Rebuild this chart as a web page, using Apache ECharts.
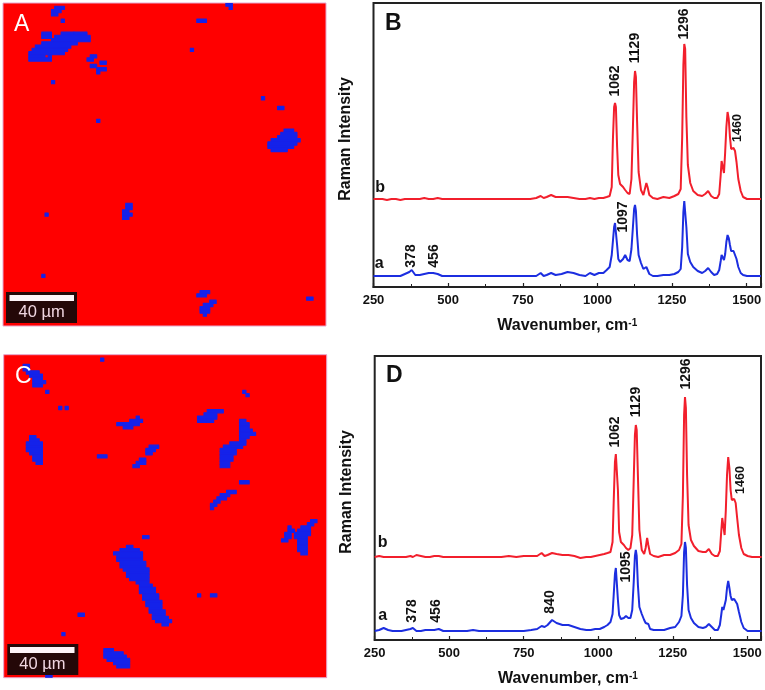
<!DOCTYPE html>
<html><head><meta charset="utf-8">
<style>html,body{margin:0;padding:0;background:#fff}#c{width:765px;height:690px;filter:blur(0.4px)}</style>
<script src="https://cdn.jsdelivr.net/npm/echarts@6/dist/echarts.min.js"></script>
</head><body><div id="c"></div>
<script>
// ---- Raman spectra: wavenumbers and intensities (arbitrary height units)
const wavenumbers = [
250,265,280,295,310,325,340,355,370,378,
390,405,420,435,450,465,480,500,520,525,
540,560,580,600,625,650,675,700,725,750,
775,795,810,820,830,845,860,880,900,920,
940,960,975,990,1005,1020,1031,1041,
1048,1052,1056,1059,1062,1066,1070,1076,1086,1093,
1101,1108,1114,1119,1123,1126,1129,1133,1138,1146,
1154,1159,1164,1168,1174,
1186,1201,1221,1241,1258,1271,1279,1284,1288,1291,
1294,1298,1303,1311,1321,1336,1351,1361,1371,1381,1391,
1401,1408,1413,1416,1420,1424,1428,1432,1436,1440,
1444,1448,1452,1456,1461,1466,1472,1480,1488,1501,
1516,1531,1548];
const panelB_b = [
88,88,88,87,88,88,87,88,88,88,
88,88,89,88,88,89,88,88,88,86,
88,88,88,88,88,88,88,88,88,88,
88,89,91,89,90,92,90,90,90,89,
88,88,89,88,89,89,90,91,
100,148,180,184,180,140,112,103,100,97,
94,93,108,160,205,216,210,165,115,97,
92,94,104,100,92,
89,88,90,89,91,93,98,150,222,243,
238,170,122,104,96,92,91,93,96,91,89,
89,93,112,126,128,114,135,160,175,168,
150,138,136,139,136,125,108,96,90,88,
88,88,88];
const panelB_a = [
11,11,11,11,11,11,11,13,15,17,
12,12,13,14,14,13,11,11,11,13,
11,11,11,11,11,11,11,11,11,11,
11,11,14,11,12,14,12,13,15,14,
12,11,14,12,14,14,17,20,
32,46,60,64,62,42,28,25,28,32,
27,26,38,60,78,82,76,52,32,24,
18,19,20,18,13,
11,11,12,12,13,15,18,40,75,86,
84,60,33,25,20,16,14,16,19,15,12,
13,17,26,32,33,27,33,45,52,49,
42,36,34,36,34,28,20,14,12,11,
11,11,11];
const panelD_b = [
83,84,83,83,83,83,83,83,84,83,
85,84,83,83,84,84,83,83,83,84,
83,83,83,83,83,83,83,84,83,84,
84,84,87,84,85,87,86,85,85,84,
82,83,83,84,85,86,87,88,
98,140,178,186,184,150,108,98,95,92,
90,92,105,160,205,215,210,165,110,90,
86,92,102,95,86,
84,83,85,85,87,90,96,145,225,243,
232,165,115,100,94,89,88,88,91,86,84,
84,89,110,122,124,105,130,165,183,172,
150,140,138,141,137,122,105,92,86,84,
83,83,83];
const panelD_a = [
9,10,12,10,9,9,9,10,11,12,
9,9,10,10,10,11,9,9,9,10,
9,9,10,9,9,9,9,9,9,9,
10,11,14,13,15,20,17,15,15,13,
11,10,10,11,11,13,15,18,
26,46,66,72,70,40,25,21,22,24,
22,22,30,58,84,90,84,55,33,26,
20,17,19,16,11,
10,10,10,12,13,18,24,45,88,98,
92,55,30,22,17,13,12,13,16,13,10,
10,15,26,33,30,28,40,52,59,52,
44,40,38,41,40,36,28,18,12,9,
9,9,9];

// ---- Peak annotations: [wavenumber, height, text]
const peakLabelsB = [[1058,206,'1062'],[1125,239,'1129'],[1291,263,'1296'],[1086,70,'1097'],[375,31,'378'],[453,31,'456']];
const smallLabelsB = [[1471,159,'1460']];
const traceLabelsB = [[272,99,'b'],[269,23,'a']];
const peakLabelsD = [[1056,208,'1062'],[1126,238,'1129'],[1294,266,'1296'],[1092,73,'1095'],[376,29,'378'],[456,29,'456'],[840,38,'840']];
const smallLabelsD = [[1476,160,'1460']];
const traceLabelsD = [[277,97,'b'],[277,24,'a']];

// ---- Raman maps: runs of blue cells on a 100x100 grid [row, firstCol, lastCol]
const mapA = [
[1,16,18],[2,15,17],[3,15,16],[5,18,18],
[9,12,14],[9,18,21],[9,22,25],[10,12,14],[10,16,26],[11,15,26],[12,12,22],[13,10,20],[14,9,19],[15,8,18],[16,8,12],[16,14,14],[17,8,14],
[16,27,28],[17,26,27],[18,30,31],[19,27,28],[20,29,31],[21,29,29],
[24,15,15],[36,29,29],[65,13,13],[84,12,12],
[62,38,39],[63,38,39],[64,37,38],[65,37,39],[66,37,38],
[0,69,70],[1,70,70],[5,60,62],[14,58,58],[29,80,80],[32,85,86],
[39,87,89],[40,86,90],[41,85,90],[42,83,91],[43,82,90],[44,82,89],[45,83,87],
[89,61,63],[90,60,62],[92,64,65],[93,62,64],[94,61,63],[95,61,63],[96,62,62],[91,94,95]
];
const mapC = [
[1,30,30],[3,6,7],[4,6,7],[5,7,10],[6,8,11],[7,9,11],[8,9,12],[9,9,11],[11,13,13],[16,17,17],[16,19,19],
[19,41,41],[20,39,42],[21,35,41],[22,37,39],
[17,63,67],[18,62,65],[19,60,65],[20,60,62],[20,63,64],
[11,74,74],[12,75,75],
[20,73,74],[21,73,75],[22,73,75],[23,73,76],[24,73,77],[25,73,75],[26,73,74],
[27,70,74],[28,68,73],[29,67,71],[30,67,71],[31,67,70],[32,67,70],[33,67,69],[34,67,69],
[25,8,9],[26,8,10],[27,7,11],[28,7,11],[29,7,11],[30,8,11],[31,9,11],[32,9,11],[33,10,11],
[31,29,31],[28,45,47],[29,44,46],[30,44,45],[32,42,43],[33,41,43],[34,40,41],
[39,73,75],[42,69,71],[43,67,69],[44,66,68],[45,65,66],[46,64,65],[47,64,64],[56,43,44],
[51,95,96],[52,94,95],[53,88,88],[53,92,94],[54,88,89],[54,91,94],[55,87,88],[55,90,94],[56,87,88],[56,90,93],[57,86,87],[57,91,93],[58,91,93],[59,91,93],[60,91,93],[61,92,93],
[59,38,39],[60,36,41],[61,34,42],[62,35,42],[63,35,42],[64,36,43],[65,36,43],[66,37,44],[67,38,44],[68,38,44],[69,39,44],[70,41,44],[71,42,45],[72,42,46],[73,42,46],[74,43,47],[75,43,47],[76,44,48],[77,44,48],[78,45,48],[79,45,49],[80,46,49],[81,46,50],[82,47,51],[83,49,50],
[74,60,60],[74,64,65],[80,23,24],[86,18,18],
[91,31,33],[92,31,36],[93,31,37],[94,32,38],[95,34,38],[96,35,38],[99,13,14]
];

const FONT = '"Liberation Sans", Arial, sans-serif';
const RED = '#f21f2c', BLUE = '#1c2ee0', MAPBLUE = '#1422ea';

const chart = echarts.init(document.getElementById('c'), null, {renderer:'canvas'});

function zip(a){ return wavenumbers.map((w,i)=>[w,a[i]]); }

function mapSeries(idx, runs){
  return {
    type:'custom', xAxisIndex:idx, yAxisIndex:idx, data:runs, silent:true, clip:true,
    encode:{x:[1,2], y:0},
    renderItem(params, api){
      const row = api.value(0), c0 = api.value(1), c1 = api.value(2);
      const p0 = api.coord([c0,row]), p1 = api.coord([c1+1,row+1]);
      return {type:'rect', shape:{x:p0[0],y:p0[1],width:p1[0]-p0[0],height:p1[1]-p0[1]},
              style:{fill:MAPBLUE,stroke:MAPBLUE,lineWidth:1.1,lineJoin:'round'}};
    }
  };
}
function lineSeries(idx,vals,color){
  return {type:'line', xAxisIndex:idx, yAxisIndex:idx, data:zip(vals), showSymbol:false, silent:true,
    lineStyle:{color, width:2}, itemStyle:{color}, z:3};
}
function textSeries(idx,rows,size,rotate){
  return {type:'scatter', xAxisIndex:idx, yAxisIndex:idx, data:rows, symbolSize:0.1, silent:true, z:5,
    itemStyle:{color:'transparent',opacity:1},
    label:{show:true, position:'inside', rotate, formatter:p=>p.value[2], color:'#111',
      fontFamily:FONT, fontWeight:'bold', fontSize:size, align:'center', verticalAlign:'middle'}};
}
function mapAxes(){ return {
  x:{type:'value',min:0,max:100,show:false},
  y:{type:'value',min:0,max:100,inverse:true,show:false}
};}
function specX(gi){ return {type:'value',gridIndex:gi,min:250,max:gi===1?1548:1546,interval:250,
  position:'bottom',
  axisLine:{show:true,onZero:false,lineStyle:{color:'#222',width:2}},
  axisTick:{show:true,inside:true,length:4,lineStyle:{color:'#222',width:1.2}},
  minorTick:{show:true,splitNumber:2,length:3,lineStyle:{color:'#222',width:1}},
  splitLine:{show:false},
  axisLabel:{color:'#111',fontFamily:FONT,fontWeight:'bold',fontSize:13,margin:7,showMaxLabel:false,hideOverlap:false,formatter:v=>String(v)},
  name:'{m|Wavenumber, cm}{s|-1}',nameLocation:'middle',nameGap:31,
  nameTextStyle:{rich:{m:{fontFamily:FONT,fontWeight:'bold',fontSize:16,color:'#111'},
    s:{fontFamily:FONT,fontWeight:'bold',fontSize:10,color:'#111',verticalAlign:'top',padding:[0,0,6,0]}}}
};}
function specY(gi,pad){ return {type:'value',gridIndex:gi,min:0,max:284,
  axisLine:{show:false},axisTick:{show:false},axisLabel:{show:false},splitLine:{show:false},
  name:'Raman Intensity',nameLocation:'middle',nameGap:20,
  nameTextStyle:{fontFamily:FONT,fontWeight:'bold',fontSize:16,color:'#111',padding:pad}
};}

const mA = mapAxes(), mC = mapAxes();
const option = {
  animation:false, backgroundColor:'#fff',
  grid:[
    {left:3,top:3,width:323,height:323,show:true,backgroundColor:'#ff0000',borderColor:'#e6a6cc',borderWidth:1},
    {left:373.5,top:3,width:387.5,height:284,show:true,backgroundColor:'#fff',borderColor:'#222',borderWidth:2},
    {left:3.7,top:354.7,width:323,height:323,show:true,backgroundColor:'#ff0000',borderColor:'#e6a6cc',borderWidth:1},
    {left:374.7,top:356,width:386.3,height:284,show:true,backgroundColor:'#fff',borderColor:'#222',borderWidth:2}
  ],
  xAxis:[Object.assign({gridIndex:0},mA.x),specX(1),Object.assign({gridIndex:2},mC.x),specX(3)],
  yAxis:[Object.assign({gridIndex:0},mA.y),specY(1,[0,0,0,12]),Object.assign({gridIndex:2},mC.y),specY(3,[0,0,0,12])],
  series:[
    mapSeries(0,mapA), mapSeries(2,mapC),
    lineSeries(1,panelB_b,RED), lineSeries(1,panelB_a,BLUE),
    lineSeries(3,panelD_b,RED), lineSeries(3,panelD_a,BLUE),
    textSeries(1,peakLabelsB,14,90), textSeries(1,smallLabelsB,12.5,90), textSeries(1,traceLabelsB,16,0),
    textSeries(3,peakLabelsD,14,90), textSeries(3,smallLabelsD,12.5,90), textSeries(3,traceLabelsD,16,0)
  ],
  graphic:[
    {type:'text',z:20,left:14,top:13,style:{text:'A',fill:'#fff',font:'23px '+FONT}},
    {type:'text',z:20,left:15,top:365,style:{text:'C',fill:'#fff',font:'23px '+FONT}},
    {type:'text',z:20,left:385,top:12,style:{text:'B',fill:'#111',font:'bold 23px '+FONT}},
    {type:'text',z:20,left:386,top:364,style:{text:'D',fill:'#111',font:'bold 23px '+FONT}},
    {type:'rect',z:20,shape:{x:6,y:292,width:71,height:31},style:{fill:'#240808'}},
    {type:'rect',z:21,shape:{x:9.5,y:295,width:64.5,height:6},style:{fill:'#fdf4f8'}},
    {type:'text',z:21,x:41.7,y:312,style:{text:'40 µm',fill:'#f0d6e0',font:'16.5px '+FONT,align:'center',verticalAlign:'middle'}},
    {type:'rect',z:20,shape:{x:7.3,y:644,width:71,height:31},style:{fill:'#240808'}},
    {type:'rect',z:21,shape:{x:10,y:647,width:64.5,height:6},style:{fill:'#fdf4f8'}},
    {type:'text',z:21,x:42.3,y:664,style:{text:'40 µm',fill:'#f0d6e0',font:'16.5px '+FONT,align:'center',verticalAlign:'middle'}}
  ]
};
chart.setOption(option);
</script></body></html>
